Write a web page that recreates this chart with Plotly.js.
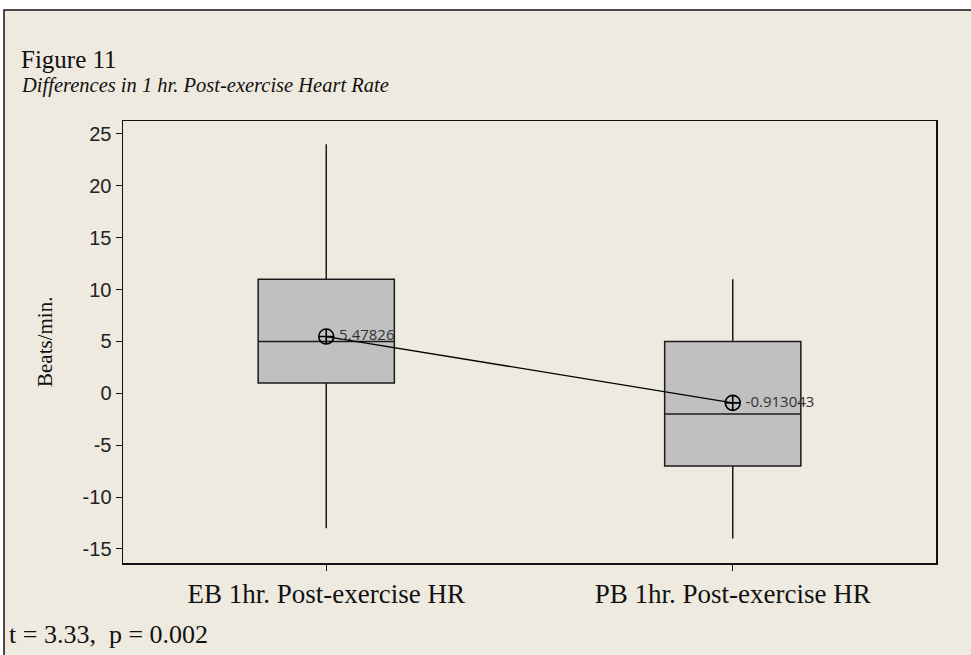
<!DOCTYPE html>
<html>
<head>
<meta charset="utf-8">
<script src="https://cdn.plot.ly/plotly-3.0.1.min.js"></script>
<style>
  html, body { margin: 0; padding: 0; background: #ffffff; }
  #chart { width: 971px; height: 655px; }
</style>
</head>
<body>
<div id="chart"></div>
<script>
// ---- data ----
const categories = ['EB 1hr. Post-exercise HR', 'PB 1hr. Post-exercise HR'];
const q1Values = [1, -7];
const medianValues = [5, -2];
const q3Values = [11, 5];
const lowerWhisker = [-13, -14];
const upperWhisker = [24, 11];
const meanValues = [5.47826, -0.913043];
const meanLabels = ['5.47826', '-0.913043'];
const yTickValues = [-15, -10, -5, 0, 5, 10, 15, 20, 25];
const yTickLabels = ['-15', '-10', '-5', '0', '5', '10', '15', '20', '25'];

const boxTrace = {
  type: 'box',
  x: categories,
  q1: q1Values,
  median: medianValues,
  q3: q3Values,
  lowerfence: lowerWhisker,
  upperfence: upperWhisker,
  boxpoints: false,
  fillcolor: '#c0c0c0',
  line: { color: '#1a1a1a', width: 1.5 },
  whiskerwidth: 0,
  width: 0.335,
  hoverinfo: 'skip',
  showlegend: false
};

const meanTrace = {
  type: 'scatter',
  mode: 'lines+markers+text',
  x: categories,
  y: meanValues,
  text: meanLabels.map(s => '\u2009' + s),
  textposition: 'middle right',
  textfont: { family: 'Open Sans, DejaVu Sans, sans-serif', size: 15, color: '#333333' },
  line: { color: '#000000', width: 1.3 },
  marker: { symbol: 'circle-cross-open', size: 15, color: '#000000', line: { width: 1.6, color: '#000000' } },
  cliponaxis: false,
  hoverinfo: 'skip',
  showlegend: false
};

const serif = 'Liberation Serif, Times New Roman, serif';

const layout = {
  width: 971,
  height: 655,
  margin: { l: 123, r: 35, t: 121, b: 92 },
  paper_bgcolor: '#ffffff',
  plot_bgcolor: '#ffffff',
  showlegend: false,
  xaxis: {
    type: 'category',
    range: [-0.5, 1.5],
    showline: true,
    mirror: true,
    linecolor: '#111111',
    linewidth: 1.5,
    ticks: 'outside',
    ticklen: 6,
    tickcolor: '#111111',
    showgrid: false,
    zeroline: false,
    tickfont: { family: serif, size: 27, color: '#111111' },
    fixedrange: true
  },
  yaxis: {
    range: [-16.35, 26.25],
    tickvals: yTickValues,
    ticktext: yTickLabels,
    showline: true,
    mirror: true,
    linecolor: '#111111',
    linewidth: 1.5,
    ticks: 'outside',
    ticklen: 6,
    tickcolor: '#111111',
    showgrid: false,
    zeroline: false,
    tickfont: { family: 'Liberation Sans, Arial, sans-serif', size: 20, color: '#222222' },
    fixedrange: true
  },
  shapes: [
    {
      type: 'rect', xref: 'paper', yref: 'paper', layer: 'below',
      x0: (4 - 123) / 813, x1: 1.2, y0: (563 - 10) / 442, y1: -0.4,
      fillcolor: '#eeeae0',
      line: { color: '#111111', width: 1.5 }
    }
  ],
  annotations: [
    {
      text: 'Figure 11', xref: 'paper', yref: 'paper', showarrow: false,
      x: (19 - 123) / 813, y: (563 - 59) / 442, xanchor: 'left', yanchor: 'middle',
      font: { family: serif, size: 25, color: '#111111' }
    },
    {
      text: '<i>Differences in 1 hr. Post-exercise Heart Rate</i>', xref: 'paper', yref: 'paper', showarrow: false,
      x: (19 - 123) / 813, y: (563 - 85) / 442, xanchor: 'left', yanchor: 'middle',
      font: { family: serif, size: 20.5, color: '#111111' }
    },
    {
      text: 'Beats/min.', xref: 'paper', yref: 'paper', showarrow: false, textangle: -90,
      x: (45 - 123) / 813, y: 0.5, xanchor: 'center', yanchor: 'middle',
      font: { family: serif, size: 21, color: '#111111' }
    },
    {
      text: 't = 3.33,  p = 0.002', xref: 'paper', yref: 'paper', showarrow: false,
      x: (7 - 123) / 813, y: (563 - 634) / 442, xanchor: 'left', yanchor: 'middle',
      font: { family: serif, size: 26, color: '#111111' }
    }
  ]
};

Plotly.newPlot('chart', [boxTrace, meanTrace], layout, { displayModeBar: false, staticPlot: true });
</script>
</body>
</html>
